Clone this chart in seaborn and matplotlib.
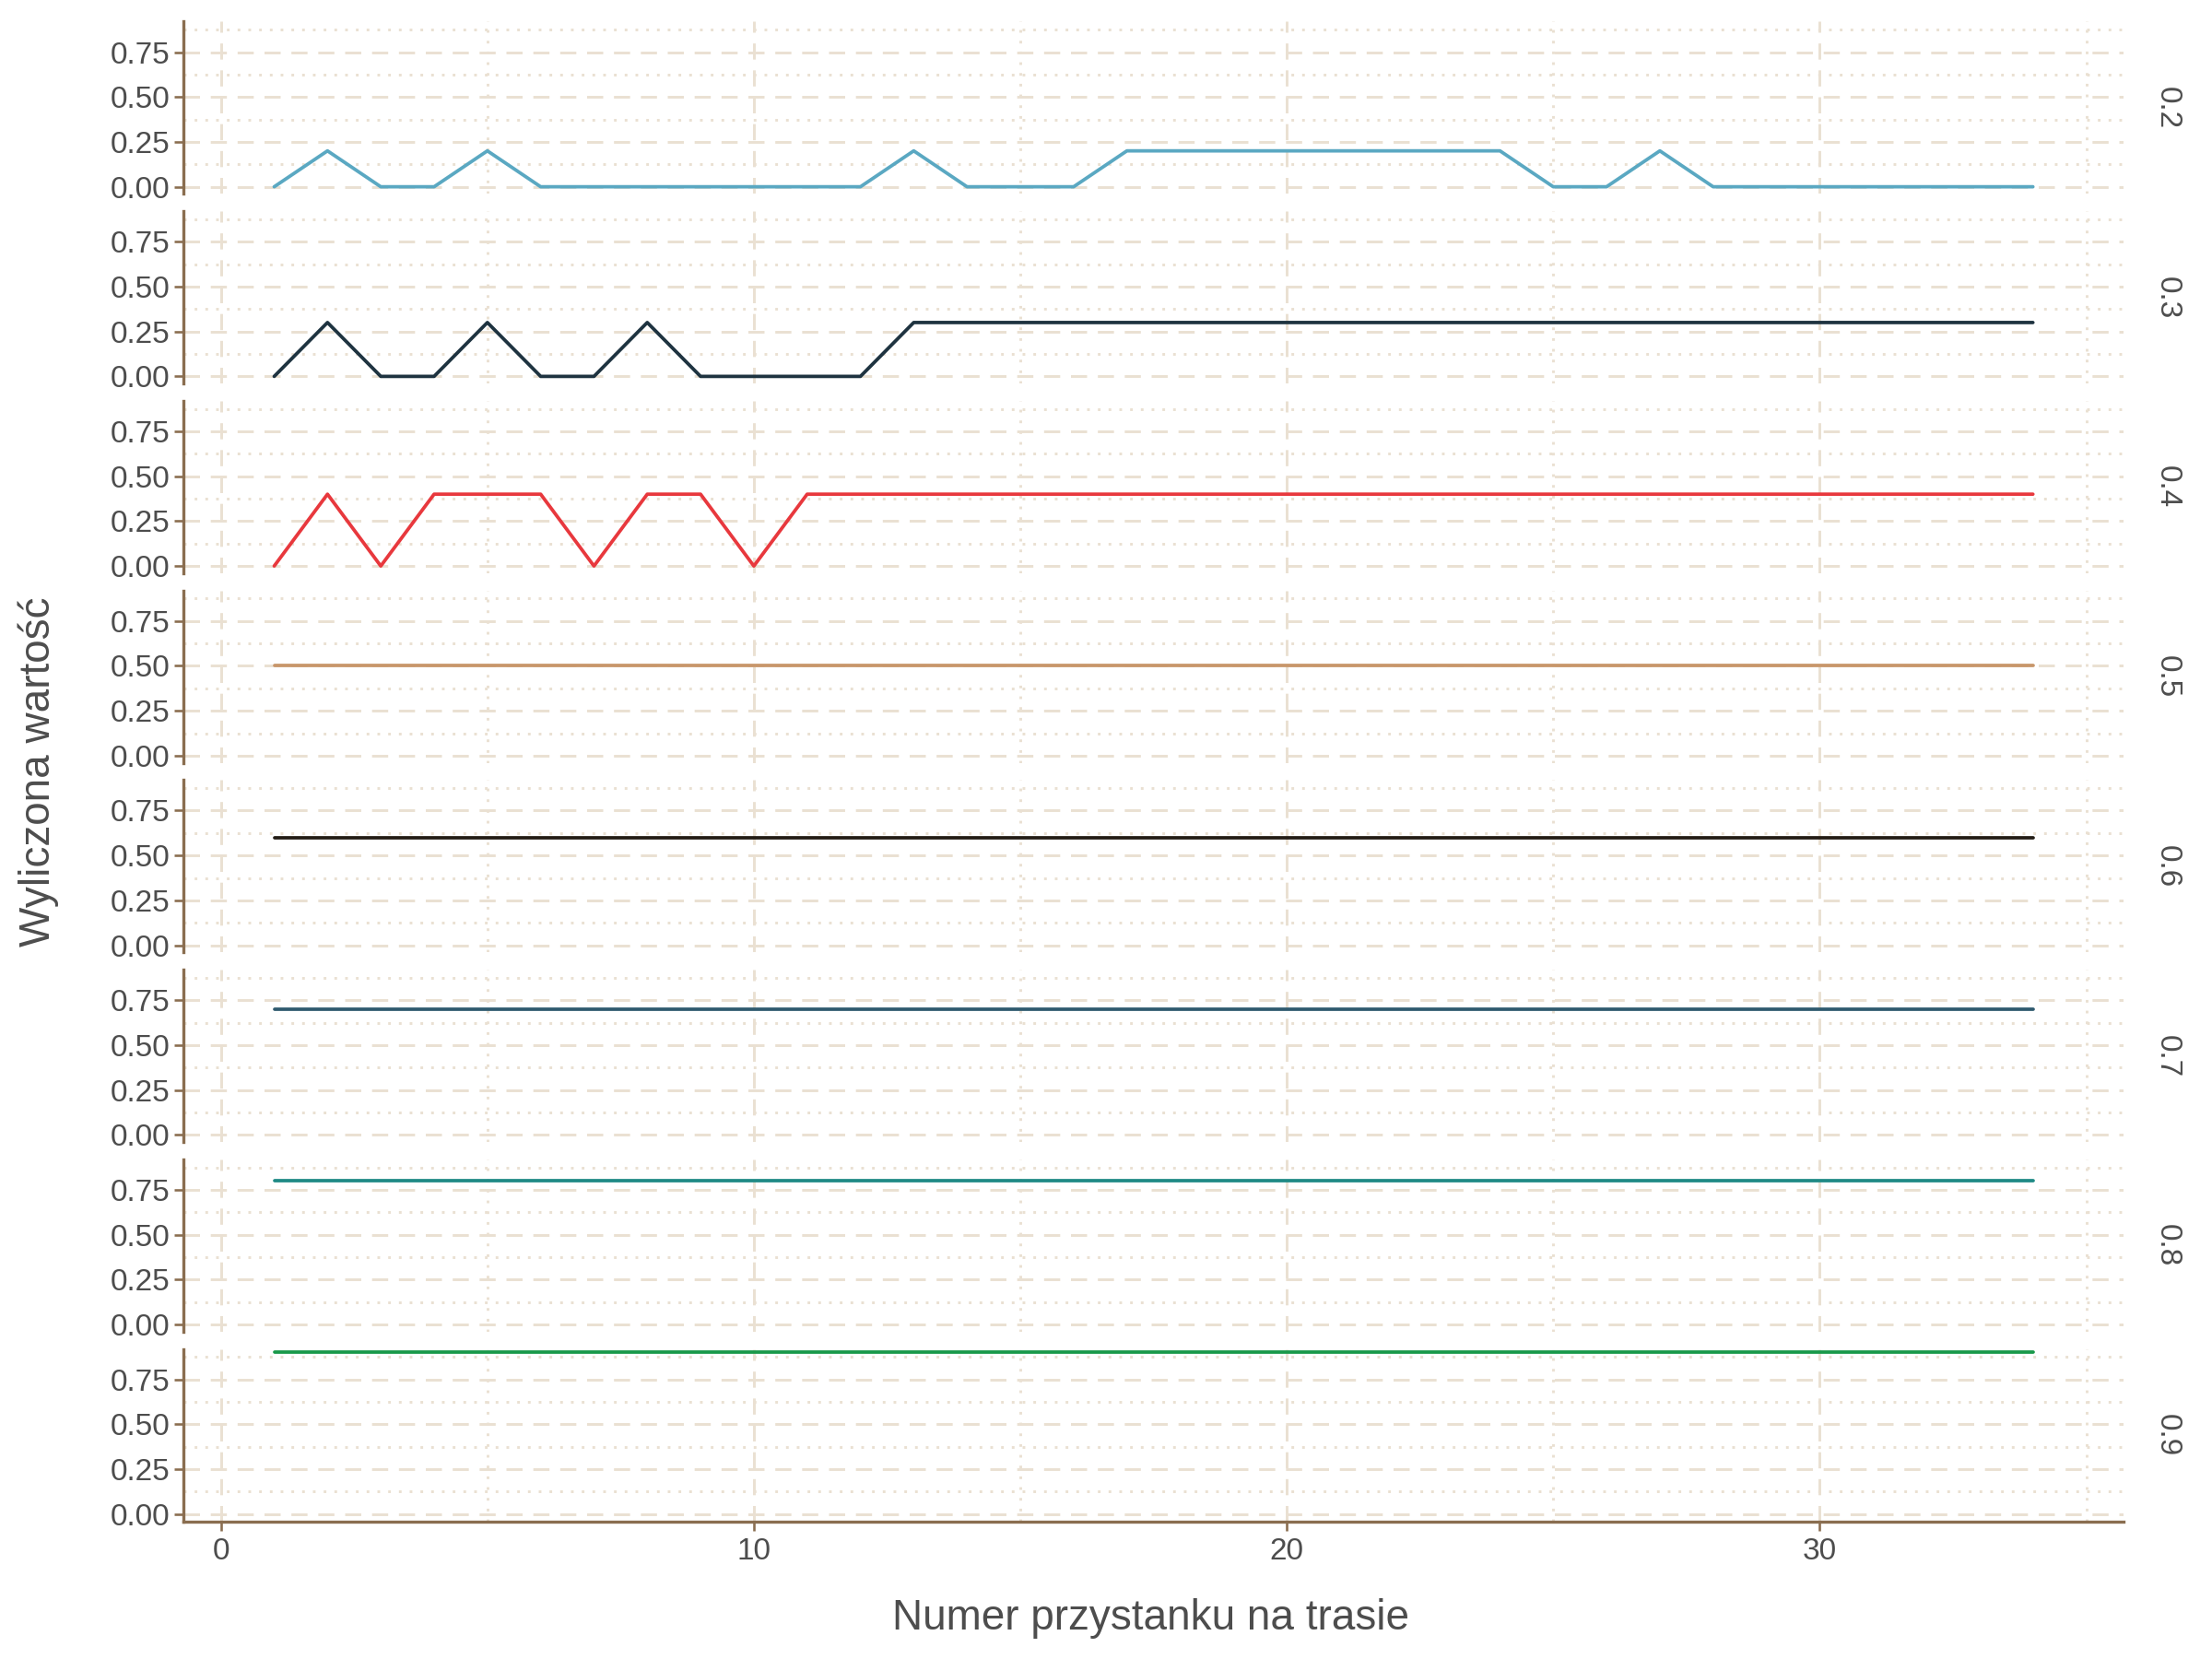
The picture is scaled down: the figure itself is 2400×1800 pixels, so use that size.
import numpy as np
import pandas as pd
import matplotlib
matplotlib.use("Agg")
import matplotlib.pyplot as plt
import seaborn as sns
from matplotlib.ticker import MultipleLocator

stops = list(range(1, 35))
panels = ["0.2", "0.3", "0.4", "0.5", "0.6", "0.7", "0.8", "0.9"]
v02 = [0, .2, 0, 0, .2, 0, 0, 0, 0, 0, 0, 0, .2, 0, 0, 0, .2, .2, .2, .2, .2, .2, .2, .2, 0, 0, .2, 0, 0, 0, 0, 0, 0, 0]
v03 = [0, .3, 0, 0, .3, 0, 0, .3, 0, 0, 0, 0] + [.3] * 22
v04 = [0, .4, 0, .4, .4, .4, 0, .4, .4, 0] + [.4] * 24
v05 = [.5] * 34
v06 = [.6] * 34
v07 = [.7] * 34
v08 = [.8] * 34
v09 = [.9] * 34
series = [v02, v03, v04, v05, v06, v07, v08, v09]
colors = ["#5aa8c2", "#1e3340", "#e8383d", "#c8966a", "#231c15", "#2f5a6e", "#1f8a85", "#19994a"]

sns.set_theme(style="white")
plt.rcParams['font.family'] = ['Liberation Sans', 'DejaVu Sans']
fig, axes = plt.subplots(8, 1, figsize=(16, 12), dpi=150, sharex=True)
fig.subplots_adjust(left=0.083, right=0.96, top=0.987, bottom=0.083, hspace=0.1)
grid_c = "#eae0d2"
spine_c = "#8a6e50"
for i, (ax, p, vals, c) in enumerate(zip(axes, panels, series, colors)):
    df = pd.DataFrame({"x": stops, "y": vals})
    sns.lineplot(data=df, x="x", y="y", ax=ax, color=c, linewidth=1.8)
    ax.set_xlim(-0.7, 35.7)
    ax.set_ylim(-0.04, 0.92)
    ax.xaxis.set_major_locator(MultipleLocator(10))
    ax.xaxis.set_minor_locator(MultipleLocator(5))
    ax.set_yticks([0, .25, .5, .75])
    ax.set_yticklabels(["0.00", "0.25", "0.50", "0.75"])
    ax.yaxis.set_minor_locator(MultipleLocator(0.125))
    ax.grid(which="major", color=grid_c, linestyle=(0, (6, 4)), linewidth=1.4)
    ax.grid(which="minor", color=grid_c, linestyle=(0, (1, 3)), linewidth=1.4)
    ax.set_axisbelow(True)
    for s in ["top", "right"]:
        ax.spines[s].set_visible(False)
    ax.spines["left"].set_color(spine_c)
    ax.spines["left"].set_linewidth(1.6)
    ax.tick_params(axis="y", which="major", left=True, length=5, color=spine_c,
                   labelsize=16, labelcolor="#4d4d4d", pad=2)
    ax.tick_params(axis="y", which="minor", left=False)
    ax.set_ylabel("")
    ax.set_xlabel("")
    ax.text(1.015, 0.5, p, transform=ax.transAxes, rotation=-90, va="center",
            ha="left", fontsize=16, color="#4d4d4d")
    if i < 7:
        ax.spines["bottom"].set_visible(False)
        ax.tick_params(axis="x", which="both", bottom=False, labelbottom=False)
    else:
        ax.spines["bottom"].set_color(spine_c)
        ax.spines["bottom"].set_linewidth(1.6)
        ax.tick_params(axis="x", which="major", bottom=True, length=5, color=spine_c,
                       labelsize=16, labelcolor="#4d4d4d")
        ax.tick_params(axis="x", which="minor", bottom=False)
fig.text(0.52, 0.018, "Numer przystanku na trasie", ha="center", fontsize=22, color="#4d4d4d")
fig.text(0.008, 0.535, "Wyliczona wartość", va="center", rotation=90, fontsize=22, color="#4d4d4d")
fig.savefig("out.png", dpi=150)
